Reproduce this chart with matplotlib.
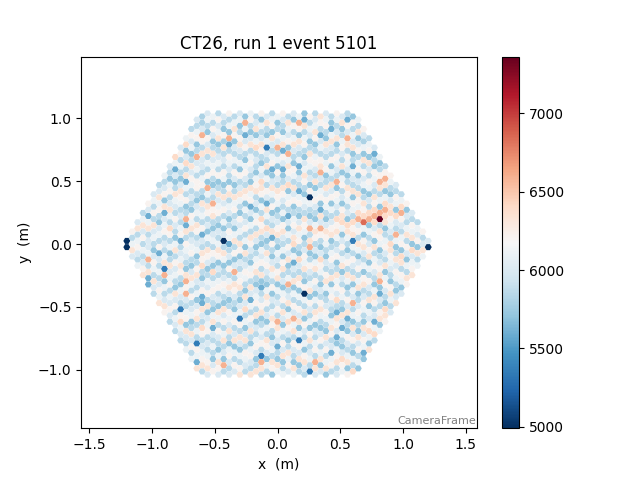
import numpy as np
import matplotlib
matplotlib.use("Agg")
import matplotlib.pyplot as plt
from matplotlib.patches import RegularPolygon
from matplotlib.collections import PatchCollection
from matplotlib.colors import Normalize

# camera geometry (flat-top hex pixels in vertical columns)
pitch = 0.0495
col_ids = list(range(-28, 29))

# charge level codes
LEVELS = {"a": 4990, "b": 5350, "c": 5600, "d": 5800, "e": 5950, "f": 6100,
          "g": 6250, "h": 6400, "i": 6600, "j": 6850, "k": 7360}
# the background pixels are paler than the ones picked out below
BG_LEVELS = {"c": 5720, "d": 5860, "e": 5990, "f": 6110, "g": 6220,
             "h": 6340}

# one string per column, top pixel first
COLUMN_LEVELS = [
    "ee",
    "gdfhe",
    "ehdfgedf",
    "dfhegdfdegh",
    "gedfhdeefgdhed",
    "efdgdhefdcegfdhed",
    "dehfgdcefdghedfdegfh",
    "fdegchdefgdedfhgecfdehg",
    "edcfgdehfdegdfcdhefgdfeged",
    "dfgecdhfedgedcfhdgefdchegdfed",
    "egdfdcehgfdedfgcdefhgdcfedhgdfed",
    "fdcegdhefdgcdfehdgfedchfgdedfgchedf",
    "dgefcdhegfdedcgfhdefgdcehfdgdefcdhegdf",
    "edfgcdhefdggdcefdhgdefcdghedfceghdfdegfdh",
    "dcefgdheedfgdchefdgcedhgfdcegdfhedcgdefghd",
    "efdcgehdfdgcefdhgdecfdhgecdfegdhcefgdedfghe",
    "fdgecdhefgdcedfghdcefdgechdfgedcfhgedfdceg",
    "dgefhcdefdgcdhefgdcedfhgcedfgdechfdgedcfhge",
    "edcgfhdedgfcdhegdfcegdhfcdegfdchegdfhdecfd",
    "gdfcehdgfedcghdfecdgfhdecgdfhecdgfehdcfgede",
    "dfhgcedfdgecdhfgdecfhdgcefdhgedcfgdehcfdge",
    "efcdghedfcgdehfdcgefdhgcedfghdcefdgdhecfdgh",
    "cdfhegdcfgedhgcfdegdfchdegfdchegdfcehdgfed",
    "fgdcehdfgedchfgdecfdhgedcfgdhecfdgehdcfgedh",
    "dehcfgdedcfghdecfgdhecdfghdcefgdhcedfgecdh",
    "gcfdehgdcfedhgcfdeghdcfegdhcfdeghcdfegdcfhd",
    "ehdcfgedhcfdgechfdgecdhfgedcfhgdecfdhgecfd",
    "dfgchedfgdcehfdgcedhfgdcehfdgcedfhgdcefdhgc",
    "fcdgehdfcgedhgfcdeghdcfedghcfdegdchfegdchf",
    "gedcfhdgefcdhgedfcghedfcghdecfgdhecfdgehcdf",
    "dhfegcdfhgedcfgdhecfdgehcdfgdehcfdgecdhfge",
    "ecgdfhedcgfdhegcdfgehdcfgedhcfdgecfhdgedchf",
    "fdgchedfgcedhfgdcehfgdcfedhgcfdgehcfdgehcd",
    "cehdfgdcefhgdcfedhgfcdegfhdcgefdhcgedfcghed",
    "gdfecdhgfdecghfdcegdhfcdgedfhcgedfcghdefdc",
    "defhgcdfgedhcfgedcfhgdecfhdgecfdhgcedfgdche",
    "hgdcefdghcedfgcdhefgdcehgfdcedghfdcegdfhce",
    "efgdchedfgcdhegfdcehgfdcedghfcdegfdchegdfhc",
    "dcgfhedgcfdhegcfdeghcdfgedhcfgedcfhgdecfgd",
    "gfdehcdgfedhcgfedcghfdegcdhfgecdfhgedcfghde",
    "ehcdfgedhcfgdecghdfcegdfhcedgfdchegfdcehgf",
    "dfgechdgfecdhgfdecghfdcegdhfcdgehfdcgedfhcg",
    "cgdfehcdgfedhcgfdeghcfdgedhcfegdfchegdcfdh",
    "fdhcegdfgcedhgfcdegdhfcegdfhcdegfdchegdfc",
    "gedfchdgefcdhgedfcghedfcghdegfdchegfdc",
    "dfgchedgfcedhgcfdeghcfdgedhcfegdfch",
    "ehdcgfedhgcfdegchdfgedcfhgdecfgd",
    "fcdgehdfcgedhgfcdeghdcfedghcf",
    "dgehcfdgehcdfgedhcfgedcfhg",
    "gfdcehdgfedchgfedcghfde",
    "edgfchedgfcdhegfdceh",
    "dfhcgedfgcehdgfce",
    "gcedfhdgecfdhg",
    "edgfhcdefgh",
    "dfegchdf",
    "gdehf",
    "ee",
]

# individual pixels that stand out: (column, index from top, level)
OVERRIDES = [
    (-28, 0, "a"), (-28, 1, "a"), (28, 1, "a"), (-10, 20, "a"), (6, 13, "a"),
    (5, 29, "a"), (19, 10, "k"),
    (16, 15, "j"), (19, 9, "i"), (17, 13, "i"), (18, 11, "i"), (15, 16, "i"),
    (13, 18, "h"), (12, 17, "h"), (11, 17, "h"), (20, 7, "i"), (21, 6, "h"),
    (23, 3, "i"), (23, 2, "h"), (22, 8, "i"), (25, 6, "h"), (23, 10, "h"),
    (21, 11, "h"), (14, 20, "b"), (19, 20, "i"), (16, 14, "h"), (17, 12, "h"),
    (18, 12, "h"), (18, 10, "h"), (15, 15, "h"), (20, 8, "h"), (14, 17, "h"),
    (20, 6, "h"), (22, 5, "h"),
    (-14, 3, "i"), (-15, 6, "i"), (-17, 4, "h"), (-19, 0, "h"), (-13, 12, "i"),
    (-17, 1, "h"), (-19, 2, "c"), (-17, 7, "c"), (-14, 0, "d"), (-14, 1, "d"),
    (-10, 4, "d"),
    (-6, 1, "i"), (4, 1, "i"), (-9, 4, "i"), (-4, 5, "h"), (0, 5, "i"),
    (2, 6, "i"), (8, 9, "i"), (-3, 11, "h"), (2, 11, "h"), (-9, 5, "c"),
    (-2, 5, "b"), (1, 6, "c"), (-6, 3, "c"), (8, 3, "c"), (5, 1, "c"),
    (-1, 9, "c"), (1, 9, "c"), (4, 8, "c"), (4, 12, "c"),
    (13, 1, "c"), (10, 2, "c"), (14, 8, "c"), (16, 2, "d"), (18, 1, "c"),
    (13, 4, "i"), (11, 11, "i"), (19, 4, "i"), (20, 2, "i"),
    (-12, 14, "i"), (-17, 13, "i"), (-20, 10, "h"), (-24, 9, "i"),
    (-21, 16, "i"), (-17, 23, "i"), (-14, 24, "h"), (-12, 25, "h"),
    (-24, 2, "c"), (-21, 6, "c"), (-17, 14, "c"), (-14, 19, "c"),
    (-18, 15, "c"), (-24, 12, "c"), (-21, 15, "b"), (-24, 13, "c"),
    (-22, 11, "c"),
    (-9, 21, "c"), (-5, 15, "c"), (-2, 14, "c"), (2, 16, "c"), (8, 15, "c"),
    (-3, 28, "c"), (-1, 20, "c"), (3, 24, "c"), (6, 18, "i"), (8, 18, "i"),
    (6, 21, "i"), (3, 21, "h"), (-8, 25, "i"), (2, 27, "i"), (4, 23, "h"),
    (8, 23, "h"), (-2, 18, "h"), (-3, 17, "h"),
    (-17, 25, "i"), (-18, 26, "b"), (-14, 30, "c"), (-14, 29, "c"),
    (-15, 36, "b"), (-15, 39, "c"), (-12, 34, "c"), (-14, 34, "h"),
    (-18, 28, "h"), (-10, 40, "i"),
    (-7, 33, "b"), (-5, 30, "c"), (4, 36, "b"), (-3, 39, "b"), (6, 41, "b"),
    (0, 37, "c"), (-3, 40, "i"), (0, 33, "i"), (3, 33, "i"), (7, 40, "i"),
    (-6, 31, "h"), (2, 33, "h"),
    (14, 30, "i"), (11, 30, "h"), (17, 31, "h"), (18, 30, "h"), (20, 23, "h"),
    (12, 39, "h"), (14, 41, "h"), (11, 32, "c"), (13, 33, "c"), (12, 34, "c"),
    (11, 36, "c"), (16, 36, "c"), (19, 22, "c"), (18, 28, "c"), (10, 38, "c"),
]


def column_y(i):
    x = i * pitch * np.sqrt(3) / 2
    lim = min(1.05, np.sqrt(3) * (1.22 - abs(x)))
    off = 0.5 if i % 2 == 0 else 0.0
    js = np.arange(-30, 31) + off
    ys = js[np.abs(js * pitch) <= lim] * pitch
    return x, ys[::-1]


override_map = {(c, k): lv for c, k, lv in OVERRIDES}
xs, ys, vals = [], [], []
for n, i in enumerate(col_ids):
    x, col = column_y(i)
    s = COLUMN_LEVELS[n].ljust(len(col), "e")
    for k, y in enumerate(col):
        xs.append(x)
        ys.append(y)
        if (i, k) in override_map:
            vals.append(LEVELS[override_map[(i, k)]])
        else:
            vals.append(BG_LEVELS[s[k]])

fig = plt.figure(figsize=(6.4, 4.8), dpi=100)
ax = fig.add_axes([0.127, 0.108, 0.618, 0.773])
cax = fig.add_axes([0.784, 0.108, 0.027, 0.773])

r = pitch / np.sqrt(3) * 0.97
patches = [RegularPolygon((x, y), 6, radius=r, orientation=np.pi / 6)
           for x, y in zip(xs, ys)]
coll = PatchCollection(patches, cmap="RdBu_r", linewidth=0,
                       norm=Normalize(min(vals), max(vals)))
coll.set_array(np.array(vals))
ax.add_collection(coll)

ax.set_xlim(-1.563, 1.587)
ax.set_ylim(-1.466, 1.488)
ax.set_xlabel("x  (m)")
ax.set_ylabel("y  (m)")
ax.set_title("CT26, run 1 event 5101")
ax.text(0.998, 0.006, "CameraFrame", transform=ax.transAxes, ha="right",
        va="bottom", color="gray", fontsize=8)

fig.colorbar(coll, cax=cax)

fig.savefig("out.png")
